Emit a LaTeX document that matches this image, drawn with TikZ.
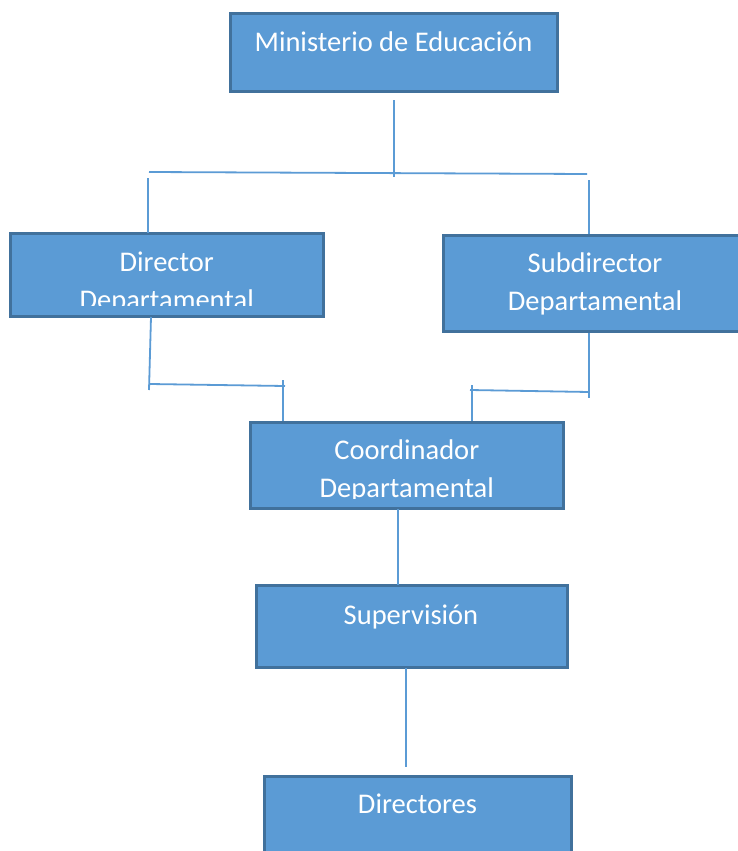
\documentclass[tikz,border=0pt]{standalone}
\usepackage{fontspec}
\setmainfont{Carlito}
\definecolor{boxfill}{HTML}{5B9BD5}
\definecolor{boxline}{HTML}{41719C}
\definecolor{conn}{HTML}{5B9BD5}
\begin{document}
\begin{tikzpicture}[x=1pt,y=-1pt,
  orgbox/.style={draw=boxline, fill=boxfill, line width=3pt, rectangle, inner sep=0pt},
  lbl/.style={text=white, anchor=base, inner sep=0pt, font=\fontsize{28.5}{38}\selectfont},
  link/.style={draw=conn, line width=1.8pt}]
\clip (0,0) rectangle (738,851);
\fill[white] (0,0) rectangle (738,851);
% boxes
\node[orgbox, minimum width=327pt, minimum height=78pt] (min) at (394,52.5) {};
\node[orgbox, minimum width=313pt, minimum height=83pt] (dir) at (167,274.5) {};
\node[orgbox, minimum width=300pt, minimum height=96pt] (sub) at (593,283.5) {};
\node[orgbox, minimum width=313pt, minimum height=86pt] (coo) at (407,465.3) {};
\node[orgbox, minimum width=311pt, minimum height=82pt] (sup) at (412,626.7) {};
\node[orgbox, minimum width=307pt, minimum height=80pt] (dirs) at (417.5,816) {};
% labels
\node[lbl] (tmin) at (393.5,52) {Ministerio de Educación};
\begin{scope}
  \clip (0,200) rectangle (330,305.5);
  \node[lbl] (tdir1) at (166.7,271) {Director};
  \node[lbl] (tdir2) at (166.7,309) {Departamental};
\end{scope}
\node[lbl] (tsub1) at (595,272) {Subdirector};
\node[lbl] (tsub2) at (595,310) {Departamental};
\begin{scope}
  \clip (240,420) rectangle (570,498);
  \node[lbl] (tcoo1) at (406.8,459) {Coordinador};
  \node[lbl] (tcoo2) at (406.8,497) {Departamental};
\end{scope}
\node[lbl] (tsup) at (411,624) {Supervisión};
\node[lbl] (tdirs) at (417.5,813) {Directores};
% connector points
\coordinate (m1) at (394,100);
\coordinate (m2) at (394,177);
\coordinate (h1a) at (149,172);
\coordinate (h1b) at (587,174);
\coordinate (l1) at (148,178);
\coordinate (l2) at (148,233);
\coordinate (r1) at (589,180);
\coordinate (r2) at (589,234);
\coordinate (d1) at (151,317);
\coordinate (d2) at (149,390);
\coordinate (h2a) at (150,384);
\coordinate (h2b) at (285,386);
\coordinate (c1) at (283,380);
\coordinate (c2) at (283,421);
\coordinate (s1) at (589,333);
\coordinate (s2) at (589,398);
\coordinate (h3a) at (470,390);
\coordinate (h3b) at (589,392);
\coordinate (c3) at (472,385);
\coordinate (c4) at (472,421);
\coordinate (k1) at (398,509);
\coordinate (k2) at (398,585);
\coordinate (p1) at (406,668);
\coordinate (p2) at (406,767);
% connectors
\draw[link] (m1) -- (m2);
\draw[link] (h1a) -- (h1b);
\draw[link] (l1) -- (l2);
\draw[link] (r1) -- (r2);
\draw[link] (d1) -- (d2);
\draw[link] (h2a) -- (h2b);
\draw[link] (c1) -- (c2);
\draw[link] (s1) -- (s2);
\draw[link] (h3a) -- (h3b);
\draw[link] (c3) -- (c4);
\draw[link] (k1) -- (k2);
\draw[link] (p1) -- (p2);
\end{tikzpicture}
\end{document}
